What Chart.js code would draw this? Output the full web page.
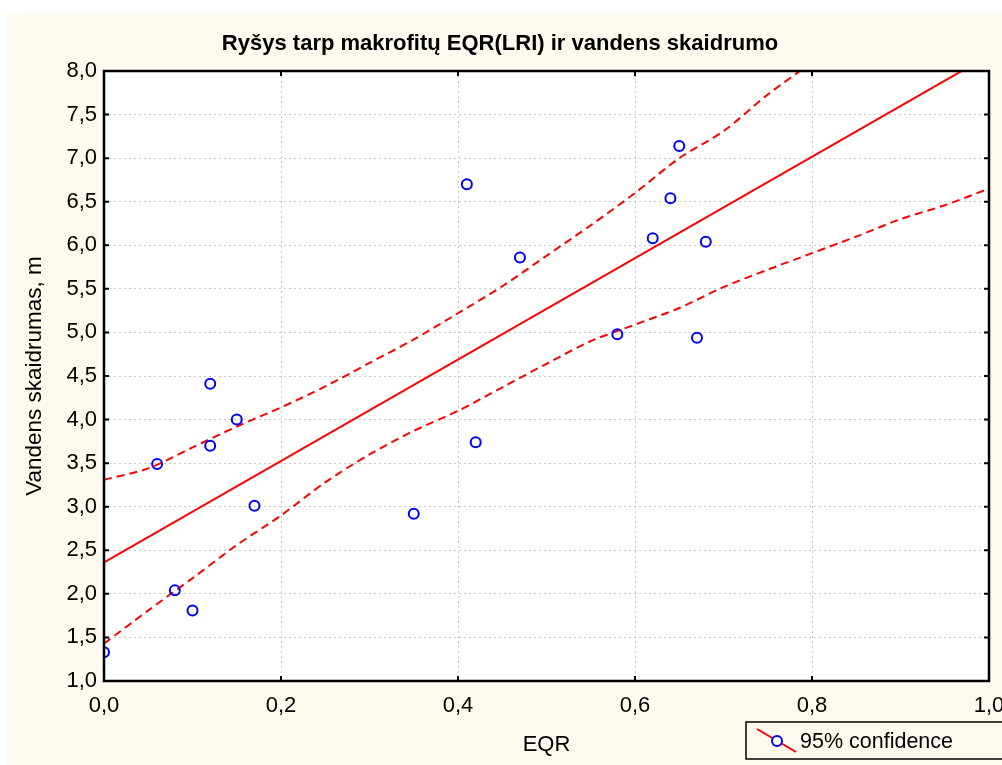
<!DOCTYPE html>
<html><head><meta charset="utf-8">
<script src="https://cdn.jsdelivr.net/npm/chart.js@4"></script>
<style>html,body{margin:0;padding:0;background:#fff;}#wrap{position:absolute;left:0;top:0;width:1002px;height:765px;}</style>
</head><body><div id="wrap"><canvas id="c" width="1002" height="765"></canvas></div>
<script>
const titleText = 'Ryšys tarp makrofitų EQR(LRI) ir vandens skaidrumo';
const xTitle = 'EQR';
const yTitle = 'Vandens skaidrumas, m';
const legendLabel = '95% confidence';

const eqr        = [0.00, 0.06, 0.08, 0.10, 0.12, 0.12, 0.15, 0.17, 0.35, 0.41, 0.42, 0.47, 0.58, 0.62, 0.64, 0.65, 0.67, 0.68];
const skaidrumas = [1.33, 3.49, 2.04, 1.81, 4.41, 3.70, 4.00, 3.01, 2.92, 6.70, 3.74, 5.86, 4.98, 6.08, 6.54, 7.14, 4.94, 6.04];

const fitX = [0.0, 1.0];
const fitY = [2.36, 8.18];

const upperX = [0.00, 0.05, 0.10, 0.15, 0.20, 0.25, 0.30, 0.35, 0.40, 0.45, 0.50, 0.55, 0.60, 0.65, 0.70, 0.75, 0.80];
const upperY = [3.31, 3.44, 3.68, 3.92, 4.14, 4.38, 4.65, 4.92, 5.22, 5.53, 5.88, 6.23, 6.60, 7.00, 7.31, 7.73, 8.10];
const lowerX = [0.00, 0.05, 0.10, 0.15, 0.20, 0.25, 0.30, 0.35, 0.40, 0.45, 0.50, 0.55, 0.60, 0.65, 0.70, 0.75, 0.80, 0.85, 0.90, 0.95, 1.00];
const lowerY = [1.43, 1.81, 2.18, 2.56, 2.90, 3.28, 3.60, 3.87, 4.10, 4.37, 4.64, 4.90, 5.09, 5.28, 5.52, 5.72, 5.91, 6.10, 6.30, 6.46, 6.65];

const xMin = 0.0, xMax = 1.0, xStep = 0.2;
const yMin = 1.0, yMax = 8.0, yStep = 0.5;

const FONT = '"Liberation Sans", Arial, sans-serif';
const FS = 22;
const fmt = v => Number(v).toFixed(1).replace('.', ',');
const pts = (xs, ys) => xs.map((x, i) => ({x: x, y: ys[i]}));

const decor = {
  id: 'decor',
  beforeDraw(chart) {
    const ctx = chart.ctx;
    ctx.save();
    ctx.fillStyle = '#ffffff';
    ctx.fillRect(0, 0, chart.width, chart.height);
    ctx.fillStyle = '#fdf9ef';
    ctx.fillRect(7, 13, chart.width - 7, chart.height - 13);
    const a = chart.chartArea;
    ctx.fillStyle = '#ffffff';
    ctx.fillRect(a.left, a.top, a.right - a.left, a.bottom - a.top);
    ctx.restore();
  },
  afterDraw(chart) {
    const ctx = chart.ctx;
    const a = chart.chartArea;
    const xs = chart.scales.x, ys = chart.scales.y;
    ctx.save();
    ctx.strokeStyle = '#000';
    ctx.lineWidth = 2.5;
    ctx.strokeRect(a.left, a.top, a.right - a.left, a.bottom - a.top);
    ctx.lineWidth = 2;
    ctx.beginPath();
    xs.ticks.forEach(t => {
      const px = xs.getPixelForValue(t.value);
      ctx.moveTo(px, a.bottom); ctx.lineTo(px, a.bottom - 5);
      ctx.moveTo(px, a.top); ctx.lineTo(px, a.top + 5);
    });
    ys.ticks.forEach(t => {
      const py = ys.getPixelForValue(t.value);
      ctx.moveTo(a.left, py); ctx.lineTo(a.left + 5, py);
      ctx.moveTo(a.right, py); ctx.lineTo(a.right - 5, py);
    });
    ctx.stroke();
    ctx.fillStyle = '#000';
    ctx.font = 'bold 22px ' + FONT;
    ctx.textAlign = 'center';
    ctx.textBaseline = 'alphabetic';
    ctx.fillText(titleText, 500, 50);
    const lx = 746, ly = 722, lw = 270, lh = 37;
    ctx.fillStyle = '#fdf9ef';
    ctx.fillRect(lx, ly, lw, lh);
    ctx.strokeStyle = '#000';
    ctx.lineWidth = 1.5;
    ctx.strokeRect(lx, ly, lw, lh);
    ctx.strokeStyle = '#ff0000';
    ctx.lineWidth = 2;
    ctx.beginPath();
    ctx.moveTo(757, 729); ctx.lineTo(796, 752);
    ctx.stroke();
    ctx.strokeStyle = '#0000ff';
    ctx.fillStyle = '#ffffff';
    ctx.beginPath();
    ctx.arc(777, 741, 5, 0, Math.PI * 2);
    ctx.fill();
    ctx.stroke();
    ctx.fillStyle = '#000';
    ctx.font = '21.5px ' + FONT;
    ctx.textAlign = 'left';
    ctx.textBaseline = 'middle';
    ctx.fillText(legendLabel, 800, 742);
    ctx.restore();
  }
};

new Chart(document.getElementById('c'), {
  type: 'scatter',
  data: {
    datasets: [
      {
        label: 'data', data: pts(eqr, skaidrumas), order: 0,
        pointStyle: 'circle', pointRadius: 5, pointHoverRadius: 5,
        pointBorderWidth: 2, borderColor: '#0000ff', backgroundColor: 'rgba(0,0,0,0)',
        showLine: false
      },
      {
        label: 'fit', data: pts(fitX, fitY), order: 1, showLine: true,
        borderColor: '#ff0000', borderWidth: 2, pointRadius: 0, fill: false
      },
      {
        label: 'upper', data: pts(upperX, upperY), order: 2, showLine: true,
        borderColor: '#ff0000', borderWidth: 2, borderDash: [8, 5], pointRadius: 0, fill: false, tension: 0.3
      },
      {
        label: 'lower', data: pts(lowerX, lowerY), order: 3, showLine: true,
        borderColor: '#ff0000', borderWidth: 2, borderDash: [8, 5], pointRadius: 0, fill: false, tension: 0.3
      }
    ]
  },
  options: {
    responsive: false,
    animation: false,
    events: [],
    layout: { padding: { top: 71, right: 13, left: 0, bottom: 0 } },
    plugins: { legend: { display: false }, title: { display: false }, tooltip: { enabled: false } },
    scales: {
      x: {
        type: 'linear', min: xMin, max: xMax,
        ticks: { stepSize: xStep, color: '#000', font: { family: FONT, size: FS }, padding: 12, callback: v => fmt(v), maxRotation: 0 },
        grid: { color: '#c8c8c8', lineWidth: 1, drawTicks: false },
        border: { display: false, dash: [2, 3] },
        title: { display: true, text: xTitle, color: '#000', font: { family: FONT, size: FS }, padding: { top: 0, bottom: 6.8 } },
        afterFit: s => { s.height = 84; s.paddingRight = 13; s.paddingLeft = 0; }
      },
      y: {
        type: 'linear', min: yMin, max: yMax,
        ticks: { stepSize: yStep, color: '#000', font: { family: FONT, size: FS }, padding: 7, callback: v => fmt(v) },
        grid: { color: '#c8c8c8', lineWidth: 1, drawTicks: false },
        border: { display: false, dash: [2, 3] },
        title: { display: true, text: yTitle, color: '#000', font: { family: FONT, size: 22.5 }, padding: { top: 21.5, bottom: 0 } },
        afterFit: s => { s.width = 104; }
      }
    }
  },
  plugins: [decor]
});
</script></body></html>
